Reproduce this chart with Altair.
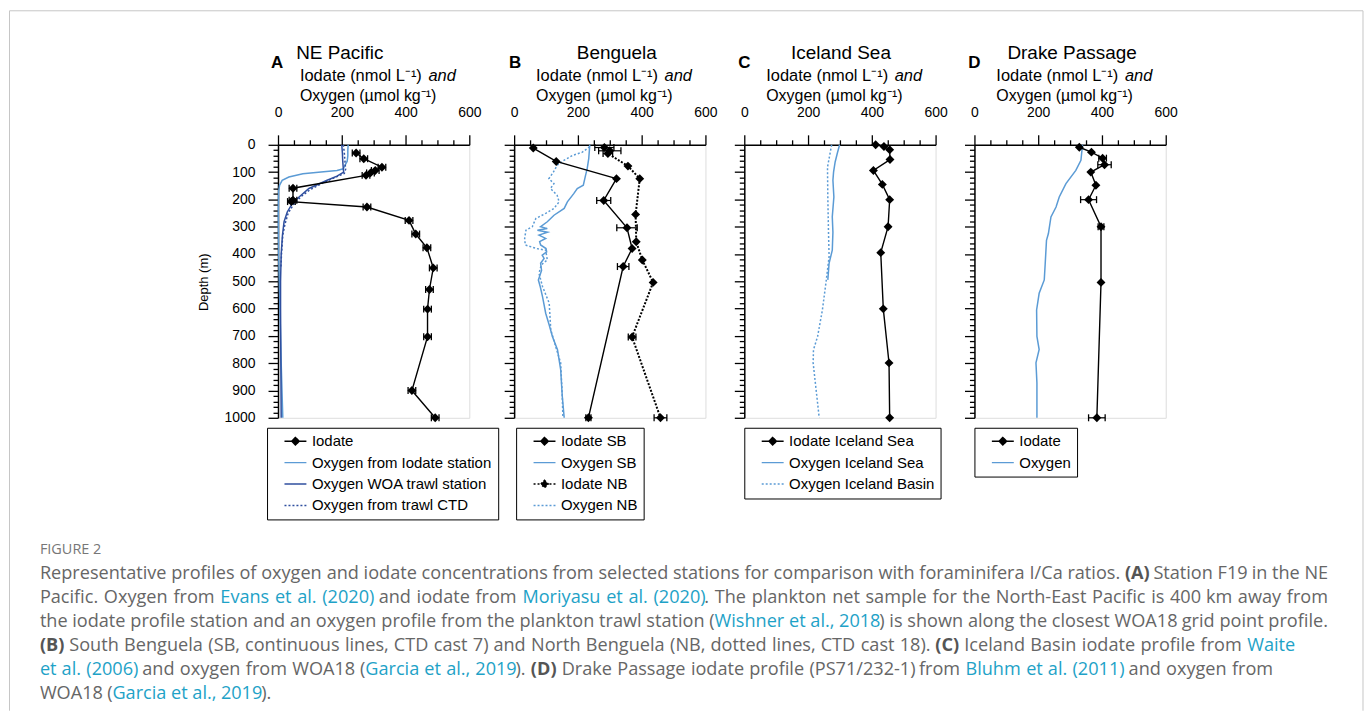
import altair as alt
import pandas as pd

# ---------------- data ----------------
# Panel A - NE Pacific
a_iod_depth = [30, 51, 82, 94, 103, 112, 159, 203, 208, 228, 277, 327, 377, 451, 530, 602, 703, 900, 1000]
a_iod_val = [245, 269, 326, 305, 290, 276, 47, 47, 42, 279, 411, 432, 467, 487, 475, 469, 469, 420, 493]
a_iod_err = [12, 12, 12, 12, 12, 12, 12, 12, 12, 12, 12, 12, 12, 12, 12, 12, 12, 12, 12]
a_ox_st_depth = [0, 20, 40, 60, 75, 88, 94, 100, 106, 118, 130, 148, 170, 250, 400, 600, 800, 1000]
a_ox_st_val = [220, 219, 219, 217, 210, 205, 185, 135, 78, 34, 13, 5, 2, 1, 2, 6, 10, 15]
a_ox_woa_depth = [0, 30, 60, 90, 100, 115, 130, 160, 191, 215, 246, 282, 331, 400, 500, 600, 800, 1000]
a_ox_woa_val = [200, 202, 203, 205, 206, 185, 154, 97, 66, 45, 29, 19, 14, 10, 8, 8, 9, 10]
a_ox_ctd_depth = [0, 30, 60, 90, 105, 120, 140, 165, 190, 220, 250, 290, 330, 400, 450]
a_ox_ctd_val = [205, 208, 210, 212, 208, 178, 140, 100, 72, 48, 32, 22, 15, 11, 9]

# Panel B - Benguela
b_sb_depth = [12, 61, 124, 204, 304, 380, 446, 1000]
b_sb_val = [60, 132, 321, 281, 354, 370, 342, 233]
b_sb_err = [0, 0, 0, 22, 32, 0, 18, 8]
b_nb_depth = [10, 22, 32, 78, 124, 255, 355, 422, 504, 704, 1000]
b_nb_val = [283, 300, 294, 357, 394, 381, 383, 402, 436, 370, 459]
b_nb_err = [30, 35, 15, 0, 0, 0, 0, 0, 0, 12, 20]
b_ox_sb_depth = [0, 5, 51, 88, 112, 148, 160, 179, 209, 233, 258, 282, 300, 307, 313, 320, 331, 343, 355,
                 367, 380, 392, 404, 416, 434, 460, 495, 520, 556, 617, 660, 702, 751, 824, 921, 1000]
b_ox_sb_val = [237, 237, 234, 229, 224, 217, 198, 187, 167, 157, 125, 104, 83, 104, 73, 105, 78, 99, 80,
               83, 100, 102, 88, 94, 83, 86, 76, 82, 89, 99, 110, 120, 136, 146, 151, 157]
b_ox_nb_depth = [7, 27, 39, 57, 75, 100, 124, 142, 160, 185, 209, 233, 251, 270, 300, 313, 343, 367, 380,
                 386, 422, 440, 471, 519, 580, 678, 738, 799, 921, 1000]
b_ox_nb_val = [237, 214, 183, 156, 135, 123, 109, 125, 114, 135, 141, 125, 99, 68, 57, 37, 33, 35, 70,
               99, 104, 85, 78, 89, 110, 115, 130, 146, 151, 153]

# Panel C - Iceland Sea
c_iod_depth = [0, 6, 18, 54, 94, 145, 201, 300, 395, 601, 799, 1000]
c_iod_val = [412, 438, 456, 457, 405, 433, 456, 451, 428, 436, 454, 456]
c_ox_sea_depth = [0, 30, 63, 100, 130, 191, 264, 320, 386, 434, 495]
c_ox_sea_val = [299, 292, 285, 280, 278, 281, 276, 278, 276, 266, 262]
c_ox_bas_depth = [0, 82, 191, 313, 410, 507, 605, 702, 751, 799, 884, 1000]
c_ox_bas_val = [274, 261, 262, 264, 266, 256, 245, 230, 217, 216, 224, 235]

# Panel D - Drake Passage
d_iod_depth = [9, 27, 49, 73, 100, 148, 201, 300, 504, 1000]
d_iod_val = [329, 367, 402, 408, 365, 381, 358, 397, 397, 384]
d_iod_err = [0, 0, 12, 21, 0, 0, 25, 9, 0, 26]
d_ox_depth = [0, 57, 94, 142, 191, 228, 264, 325, 350, 435, 495, 544, 605, 702, 750, 799, 872, 1000]
d_ox_val = [339, 334, 318, 287, 266, 256, 240, 232, 226, 222, 219, 203, 195, 196, 203, 193, 196, 196]

# ---------------- styling ----------------
FONT = "Liberation Sans"
CAPFONT = "Open Sans"
W, H = 192, 274
LIGHT = "#5b9bd5"
DARK = "#2f4f9f"
IOD_PATH = "M-2.2,0L2.2,0M0,-0.75L0.75,0L0,0.75L-0.75,0Z"
OXY_PATH = "M-2.2,0L2.2,0"
DOT = [2, 2]
SOLID = [1, 0]

xscale = alt.Scale(domain=[0, 600], nice=False, zero=False)
yscale = alt.Scale(domain=[0, 1000], reverse=True, nice=False, zero=False)


def xaxis():
    return alt.Axis(orient="top", values=list(range(0, 601, 50)),
                    labelExpr="datum.value % 200 === 0 ? '' + datum.value : ''",
                    tickSize={"condition": {"test": "datum.value % 200 === 0", "value": 10}, "value": 5},
                    labelOverlap=False, labelFlush=False, grid=False, title=None,
                    domainColor="black", domainWidth=1.5, tickColor="black", tickWidth=1.3,
                    labelFont=FONT, labelFontSize=14, labelColor="black", labelPadding=15)


def yaxis(show):
    kw = dict(orient="left", values=list(range(0, 1001, 20)),
              tickSize={"condition": {"test": "datum.value % 100 === 0", "value": 10}, "value": 5},
              labelOverlap=False, labelFlush=False, grid=False, title=None,
              domainColor="black", domainWidth=1.5, tickColor="black", tickWidth=1.3,
              labelFont=FONT, labelFontSize=14, labelColor="black", labelPadding=13)
    if show:
        kw["labelExpr"] = "datum.value % 100 === 0 ? '' + datum.value : ''"
    else:
        kw["labels"] = False
    return alt.Axis(**kw)


one = pd.DataFrame({"k": [0]})


def txt(s, x, y, size=14, weight="normal", style="normal", color="black", font=FONT, align="left", angle=None):
    kw = dict(text=s, fontSize=size, fontWeight=weight, fontStyle=style, color=color,
              font=font, align=align, baseline="middle")
    if angle is not None:
        kw["angle"] = angle
    return alt.Chart(one).mark_text(**kw).encode(x=alt.value(x), y=alt.value(y))


def oxy_line(depth, val, color, dash, show_y):
    df = pd.DataFrame({"d": depth, "v": val})
    kw = dict(color=color, strokeWidth=1.5)
    if dash:
        kw["strokeDash"] = DOT
    return alt.Chart(df).mark_line(**kw).encode(
        x=alt.X("v:Q", scale=xscale, axis=xaxis()),
        y=alt.Y("d:Q", scale=yscale, axis=yaxis(show_y)),
        order=alt.Order("d:Q"))


def iod_layers(depth, val, err, dash, show_y):
    df = pd.DataFrame({"d": depth, "v": val, "e": err})
    df["lo"] = df["v"] - df["e"]
    df["hi"] = df["v"] + df["e"]
    edf = df[df["e"] > 0]
    X = dict(scale=xscale, axis=xaxis())
    Y = alt.Y("d:Q", scale=yscale, axis=yaxis(show_y))
    out = []
    if len(edf):
        out.append(alt.Chart(edf).mark_rule(color="black", strokeWidth=1.2).encode(
            x=alt.X("lo:Q", **X), x2="hi:Q", y=Y))
        for col in ("lo", "hi"):
            out.append(alt.Chart(edf).mark_tick(orient="vertical", size=7, thickness=1.3,
                                                color="black", opacity=1).encode(
                x=alt.X(col + ":Q", **X), y=Y))
    lkw = dict(color="black", strokeWidth=1.4)
    if dash:
        lkw["strokeDash"] = [2, 1.6]
        lkw["strokeWidth"] = 2
    out.append(alt.Chart(df).mark_line(**lkw).encode(
        x=alt.X("v:Q", **X), y=Y, order=alt.Order("d:Q")))
    out.append(alt.Chart(df).mark_point(shape="diamond", filled=True, size=80, color="black",
                                        opacity=1).encode(x=alt.X("v:Q", **X), y=Y))
    return out


def legend_layer(entries, lx, ly):
    names = [e[0] for e in entries]
    paths = [IOD_PATH if e[1] == "iod" else OXY_PATH for e in entries]
    strokes = [e[2] for e in entries]
    fills = ["black" if e[1] == "iod" else "transparent" for e in entries]
    dashes = [DOT if e[3] else SOLID for e in entries]
    leg = alt.Legend(orient="none", legendX=lx, legendY=ly, title=None, direction="vertical",
                     strokeColor="black", padding=6, rowPadding=5.5, labelFont=FONT,
                     labelFontSize=15, labelColor="black", labelLimit=400, symbolSize=100,
                     symbolStrokeWidth=1.5, symbolOffset=15, labelOffset=9)
    return alt.Chart(alt.InlineData(values=[])).mark_point(opacity=1, filled=False).encode(
        shape=alt.Shape("k:N", scale=alt.Scale(domain=names, range=paths), legend=leg),
        stroke=alt.Stroke("k:N", scale=alt.Scale(domain=names, range=strokes), legend=leg),
        fill=alt.Fill("k:N", scale=alt.Scale(domain=names, range=fills), legend=leg),
        strokeDash=alt.StrokeDash("k:N", scale=alt.Scale(domain=names, range=dashes), legend=leg))


def heading(letter, title, title_cx, letter_cx):
    return [
        txt(letter, letter_cx, -82, size=17, weight="bold", align="center"),
        txt(title, title_cx, -92, size=19, align="center"),
        txt("Iodate (nmol L\u207b\u00b9)", 22, -69, size=16.5),
        txt("and", 151, -69, size=16.5, style="italic"),
        txt("Oxygen (\u00b5mol kg\u207b\u00b9)", 22, -49, size=16),
    ]


# ---------------- caption + frame (drawn from panel A, page coords shifted) ----------------
OX, OY = 279, 144  # page position of panel A's plot origin
GRAY, CYAN, BOLD = "#666666", "#1ea2c7", "#555555"
# (line centre y, right end of the line in the reference or None, runs of (text, style))
caption_lines = [
    (575, 1333, [("Representative profiles of oxygen and iodate concentrations from selected stations for comparison with foraminifera I/Ca ratios. ", "g"),
                 ("(A)", "b"), (" Station F19 in the NE", "g")]),
    (599, 1333, [("Pacific. Oxygen from ", "g"), ("Evans et al. (2020)", "c"), (" and iodate from ", "g"),
                 ("Moriyasu et al. (2020)", "c"),
                 (". The plankton net sample for the North-East Pacific is 400 km away from", "g")]),
    (623, 1333, [("the iodate profile station and an oxygen profile from the plankton trawl station (", "g"),
                 ("Wishner et al., 2018", "c"), (") is shown along the closest WOA18 grid point profile.", "g")]),
    (647, 1300, [("(B)", "b"),
                 (" South Benguela (SB, continuous lines, CTD cast 7) and North Benguela (NB, dotted lines, CTD cast 18). ", "g"),
                 ("(C)", "b"), (" Iceland Basin iodate profile from ", "g"), ("Waite", "c")]),
    (671, 1278, [("et al. (2006)", "c"), (" and oxygen from WOA18 (", "g"), ("Garcia et al., 2019", "c"),
                 ("). ", "g"), ("(D)", "b"), (" Drake Passage iodate profile (PS71/232-1) from ", "g"),
                 ("Bluhm et al. (2011)", "c"), (" and oxygen from", "g")]),
    (695, None, [("WOA18 (", "g"), ("Garcia et al., 2019", "c"), (").", "g")]),
]

# approximate Open Sans advance widths (em)
EM = {" ": .26, "a": .556, "b": .613, "c": .476, "d": .613, "e": .561, "f": .339, "g": .548, "h": .614,
      "i": .253, "j": .253, "k": .525, "l": .253, "m": .930, "n": .614, "o": .604, "p": .613, "q": .613,
      "r": .408, "s": .477, "t": .353, "u": .614, "v": .501, "w": .778, "x": .524, "y": .502, "z": .440,
      "A": .633, "B": .648, "C": .631, "D": .729, "E": .556, "F": .516, "G": .728, "H": .738, "I": .279,
      "J": .267, "K": .614, "L": .524, "M": .903, "N": .754, "O": .779, "P": .602, "Q": .779, "R": .618,
      "S": .549, "T": .553, "U": .728, "V": .595, "W": .926, "X": .577, "Y": .560, "Z": .571,
      ".": .266, ",": .244, "(": .291, ")": .291, "/": .367, "-": .322}


def em_width(s, st):
    w = sum(EM.get(ch, .556) for ch in s)
    return w * (1.08 if st == "b" else 1.0)


def tokens(runs):
    items = []
    for text, st in runs:
        buf = ""
        for ch in text:
            if ch == " ":
                if buf:
                    items.append((buf, st))
                    buf = ""
                items.append((None, st))
            else:
                buf += ch
        if buf:
            items.append((buf, st))
    return items


# font size fitted to the three full-width lines
fits = []
for y, xend, runs in caption_lines[:3]:
    tot = sum(em_width(t if t else " ", st) for t, st in tokens(runs))
    fits.append((xend - 40) / tot)
CAPSIZE = round(min(18.5, sorted(fits)[1]), 2)


def cap_text(s, x, y, st):
    color = GRAY if st == "g" else (CYAN if st == "c" else BOLD)
    weight = "bold" if st == "b" else "normal"
    return txt(s, x - OX, y - OY, size=CAPSIZE, color=color, font=CAPFONT, weight=weight)


cap_layers = []
FR = "#c6c6c6"
for xa, ya, xb, yb in [(-269.5, -134.5, 1368 - OX, -134.5),
                       (-269.5, -134.5, -269.5, 712 - OY),
                       (1368 - OX, -134.5, 1368 - OX, 712 - OY)]:
    cap_layers.append(alt.Chart(one).mark_rule(color=FR, strokeWidth=1).encode(
        x=alt.value(xa), y=alt.value(ya), x2=alt.value(xb), y2=alt.value(yb)))
cap_layers.append(txt("FIGURE 2", 40 - OX, 551 - OY, size=14.5, color="#777777", font=CAPFONT))
for y, xend, runs in caption_lines:
    items = tokens(runs)
    nat = sum(em_width(t if t else " ", st) for t, st in items) * CAPSIZE
    nsp = sum(1 for t, st in items if t is None)
    extra = 0.0
    if xend is not None and nsp:
        extra = max(-1.5, min(4.0, (xend - 40 - nat) / nsp))
    x = 40.0
    for t, st in items:
        if t is None:
            x += EM[" "] * CAPSIZE + extra
        else:
            cap_layers.append(cap_text(t, round(x, 1), y, st))
            x += em_width(t, st) * CAPSIZE

INDEP = dict(x="independent", y="independent", shape="independent", stroke="independent",
             fill="independent", strokeDash="independent")

# Panel A
pA = alt.layer(
    *cap_layers,
    oxy_line(a_ox_st_depth, a_ox_st_val, LIGHT, False, True),
    oxy_line(a_ox_woa_depth, a_ox_woa_val, DARK, False, True),
    oxy_line(a_ox_ctd_depth, a_ox_ctd_val, DARK, True, True),
    *iod_layers(a_iod_depth, a_iod_val, a_iod_err, False, True),
    legend_layer([("Iodate", "iod", "black", False),
                  ("Oxygen from Iodate station", "oxy", LIGHT, False),
                  ("Oxygen WOA trawl station", "oxy", DARK, False),
                  ("Oxygen from trawl CTD", "oxy", DARK, True)], -11, 284),
    *heading("A", "NE Pacific", 62, -1),
    txt("Depth (m)", -74, 138, size=13, align="center", angle=270),
).properties(width=W, height=H)

# Panel B
pB = alt.layer(
    oxy_line(b_ox_sb_depth, b_ox_sb_val, LIGHT, False, False),
    oxy_line(b_ox_nb_depth, b_ox_nb_val, LIGHT, True, False),
    *iod_layers(b_sb_depth, b_sb_val, b_sb_err, False, False),
    *iod_layers(b_nb_depth, b_nb_val, b_nb_err, True, False),
    legend_layer([("Iodate SB", "iod", "black", False),
                  ("Oxygen SB", "oxy", LIGHT, False),
                  ("Iodate NB", "iod", "black", True),
                  ("Oxygen NB", "oxy", LIGHT, True)], 2, 284),
    *heading("B", "Benguela", 103, 1),
).properties(width=W, height=H)

# Panel C
pC = alt.layer(
    oxy_line(c_ox_sea_depth, c_ox_sea_val, LIGHT, False, False),
    oxy_line(c_ox_bas_depth, c_ox_bas_val, LIGHT, True, False),
    *iod_layers(c_iod_depth, c_iod_val, [0] * len(c_iod_depth), False, False),
    legend_layer([("Iodate Iceland Sea", "iod", "black", False),
                  ("Oxygen Iceland Sea", "oxy", LIGHT, False),
                  ("Oxygen Iceland Basin", "oxy", LIGHT, True)], 0, 284),
    *heading("C", "Iceland Sea", 97, 0),
).properties(width=W, height=H)

# Panel D
pD = alt.layer(
    oxy_line(d_ox_depth, d_ox_val, LIGHT, False, False),
    *iod_layers(d_iod_depth, d_iod_val, d_iod_err, False, False),
    legend_layer([("Iodate", "iod", "black", False),
                  ("Oxygen", "oxy", LIGHT, False)], 0, 284),
    *heading("D", "Drake Passage", 98, 0),
).properties(width=W, height=H)

chart = alt.hconcat(
    pA, alt.hconcat(pB, pC, pD, spacing=39, bounds="flush").resolve_scale(**INDEP),
    spacing=45, bounds="flush"
).resolve_scale(**INDEP).properties(
    padding={"left": 0, "top": 0, "right": 0, "bottom": 0}
).configure_view(strokeWidth=0).configure(font=FONT, background="white")

chart.save("out.html", embed_options={"renderer": "svg", "actions": False})
